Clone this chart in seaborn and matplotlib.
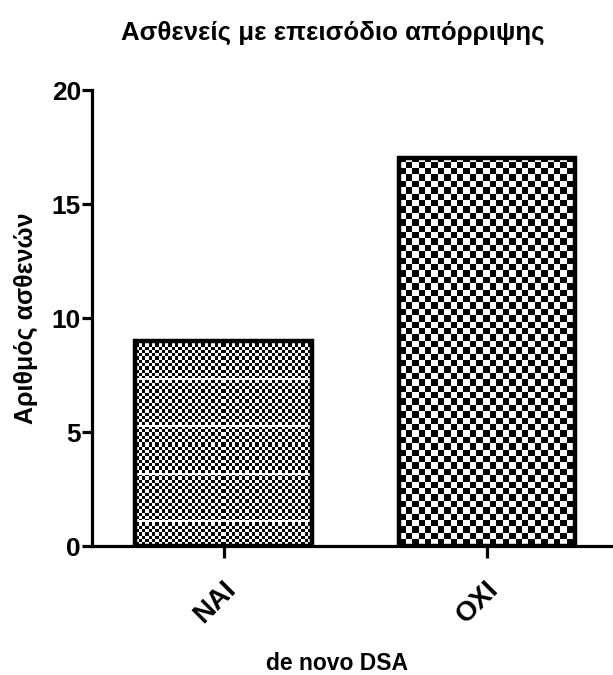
import numpy as np
import pandas as pd
import matplotlib
matplotlib.use("Agg")
import matplotlib.pyplot as plt
import matplotlib.transforms as mtransforms
import seaborn as sns

# data
categories = ["NAI", "OXI"]
patients = [9, 17]
yticks = [0, 5, 10, 15, 20]

title = "Ασθενείς με επεισόδιο απόρριψης"
xlabel = "de novo DSA"
ylabel = "Αριθμός ασθενών"

sns.set_style("ticks")
plt.rcParams["font.family"] = ["Liberation Sans", "DejaVu Sans"]
for k in ["text.color", "axes.labelcolor", "xtick.color", "ytick.color", "axes.edgecolor"]:
    plt.rcParams[k] = "black"

df = pd.DataFrame({"dsa": categories, "n": patients})

fig = plt.figure(figsize=(6.13, 6.75), dpi=100)
ax = fig.add_axes([92 / 613, 1 - 546 / 675, 1 - 92 / 613, (546 - 90) / 675])

sns.barplot(data=df, x="dsa", y="n", ax=ax, color="white", width=0.67,
            edgecolor="black", linewidth=3.2, saturation=1)

ax.set_ylim(0, 20)
ax.set_xlim(-0.5, 1.48)
ax.set_yticks(yticks)

# checkerboard fill, cell size in pixels per bar
cells = [3.3, 6.4]
fig.canvas.draw()
for p, c, k in zip(ax.patches, cells, range(2)):
    x0, y0, w, h = p.get_x(), p.get_y(), p.get_width(), p.get_height()
    (px0, py0) = ax.transData.transform((x0, y0))
    (px1, py1) = ax.transData.transform((x0 + w, y0 + h))
    W, H = int(round(px1 - px0)), int(round(py1 - py0))
    jj, ii = np.meshgrid(np.arange(W), np.arange(H))
    tex = ((np.floor(ii / c) + np.floor(jj / c)) % 2).astype(float)
    if k == 0:
        # faint white bands seen in the scanned NAI bar
        tex[((ii - 24) % 47) < 2] = 1.0
    im = ax.imshow(tex, extent=[x0, x0 + w, y0, y0 + h], origin="lower",
                   cmap="gray", vmin=0, vmax=1, interpolation="nearest",
                   aspect="auto", zorder=p.get_zorder() + 0.1)
    im.set_clip_path(p)
    p.set_facecolor("none")
    p.set_zorder(p.get_zorder() + 0.2)
ax.set_xlim(-0.5, 1.48)
ax.set_ylim(0, 20)

sns.despine(ax=ax)
for s in ["left", "bottom"]:
    ax.spines[s].set_linewidth(2.3)
ax.tick_params(axis="y", width=2.3, length=7, pad=1)
ax.tick_params(axis="x", width=2.3, length=8.5, pad=13)
for lab in ax.get_yticklabels():
    lab.set_fontweight("bold")
    lab.set_fontsize(19)
ax.set_xticks(range(len(categories)))
ax.set_xticklabels(categories, rotation=45, ha="center", fontsize=20,
                   fontweight="bold")
shift = mtransforms.ScaledTranslation(-9 / 100, 0, fig.dpi_scale_trans)
for lab in ax.get_xticklabels():
    lab.set_transform(lab.get_transform() + shift)

ax.set_xlabel(xlabel, fontsize=16.5, fontweight="bold")
ax.xaxis.set_label_coords((337 - 92) / 521, -(652 - 546) / 456)
ax.set_ylabel(ylabel, fontsize=18, fontweight="bold")
ax.yaxis.set_label_coords((38 - 92) / 521, 0.5)

fig.text(333 / 613, 1 - 33 / 675, title, ha="center", va="center",
         fontsize=18.6, fontweight="bold")

fig.savefig("out.png", dpi=100)
